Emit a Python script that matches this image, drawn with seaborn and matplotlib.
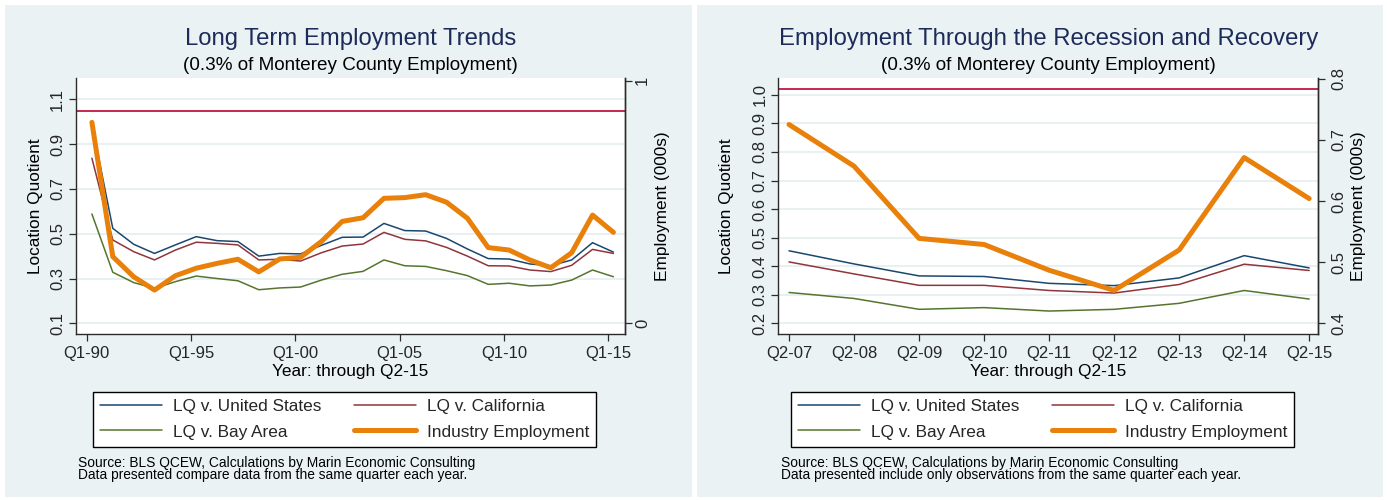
import matplotlib
matplotlib.use("Agg")
import matplotlib.pyplot as plt
import seaborn as sns
from matplotlib.patches import Rectangle

# ---------------- data ----------------
# Long-term panel: Q2 observations 1990-2015
years_long = list(range(1990, 2016))
lq_us_long = [0.99, 0.524, 0.453, 0.412, 0.450, 0.487, 0.469, 0.465, 0.400, 0.412,
              0.410, 0.448, 0.484, 0.485, 0.546, 0.514, 0.512, 0.479, 0.432, 0.389,
              0.387, 0.365, 0.357, 0.383, 0.460, 0.418]
lq_ca_long = [0.837, 0.472, 0.420, 0.383, 0.427, 0.462, 0.457, 0.450, 0.383, 0.386,
              0.378, 0.415, 0.445, 0.454, 0.506, 0.475, 0.468, 0.439, 0.400, 0.357,
              0.356, 0.338, 0.331, 0.359, 0.430, 0.412]
lq_bay_long = [0.588, 0.328, 0.282, 0.256, 0.286, 0.311, 0.300, 0.290, 0.250, 0.258,
               0.262, 0.293, 0.319, 0.332, 0.383, 0.357, 0.354, 0.335, 0.313, 0.274,
               0.279, 0.267, 0.271, 0.293, 0.338, 0.308]
emp_long = [0.828, 0.275, 0.192, 0.137, 0.196, 0.227, 0.247, 0.264, 0.212, 0.265,
            0.272, 0.337, 0.420, 0.435, 0.515, 0.518, 0.530, 0.499, 0.433, 0.312,
            0.302, 0.261, 0.229, 0.291, 0.446, 0.375]
long_tick_years = [1990, 1995, 2000, 2005, 2010, 2015]
long_tick_labels = ["Q1-90", "Q1-95", "Q1-00", "Q1-05", "Q1-10", "Q1-15"]
long_lq_ticks = [0.1, 0.3, 0.5, 0.7, 0.9, 1.1]
long_emp_ticks = [0, 1]

# Recession panel: Q2 observations 2007-2015
rec_labels = ["Q2-07", "Q2-08", "Q2-09", "Q2-10", "Q2-11", "Q2-12", "Q2-13", "Q2-14", "Q2-15"]
lq_us_rec = [0.454, 0.408, 0.366, 0.364, 0.340, 0.332, 0.359, 0.437, 0.394]
lq_ca_rec = [0.415, 0.373, 0.333, 0.333, 0.315, 0.306, 0.336, 0.407, 0.385]
lq_bay_rec = [0.308, 0.287, 0.249, 0.255, 0.243, 0.249, 0.270, 0.315, 0.285]
emp_rec = [0.725, 0.657, 0.539, 0.529, 0.487, 0.454, 0.520, 0.671, 0.604]
rec_lq_ticks = [0.2, 0.3, 0.4, 0.5, 0.6, 0.7, 0.8, 0.9, 1.0]
rec_emp_ticks = [0.4, 0.5, 0.6, 0.7, 0.8]

ref_line_long = 1.048
ref_line_rec = 1.021

series_labels = ["LQ v. United States", "LQ v. California", "LQ v. Bay Area", "Industry Employment"]
titles = ["Long Term Employment Trends", "Employment Through the Recession and Recovery"]
subtitle = "(0.3% of Monterey County Employment)"
xlabel = "Year: through Q2-15"
source_1 = "Source: BLS QCEW, Calculations by Marin Economic Consulting"
notes = ["Data presented compare data from the same quarter each year.",
         "Data presented include only observations from the same quarter each year."]

# ---------------- style ----------------
sns.set_theme(style="white")
plt.rcParams["font.family"] = ["Liberation Sans", "DejaVu Sans"]

C_US = "#1a476f"
C_CA = "#90353b"
C_BAY = "#55752f"
C_EMP = "#e8800a"
C_REF = "#c2173f"
C_BG = "#eaf2f3"
C_GRID = "#e3ecee"
C_AX = "#2b2b2b"
C_TITLE = "#1d2b5b"
TICK_FS = 12.0

W, H = 1387, 500
fig = plt.figure(figsize=(W / 100, H / 100), dpi=100)
fig.patch.set_facecolor("white")


def fx(px):
    return px / W


def fy(py):
    return 1 - py / H


def panel(x0, x1, y0, y1):
    fig.add_artist(Rectangle((fx(x0), fy(y1)), fx(x1) - fx(x0), fy(y0) - fy(y1),
                             transform=fig.transFigure, facecolor=C_BG,
                             edgecolor="none", zorder=-10))


panel(5, 692, 5, 497)
panel(697, 1383, 5, 497)


def make_axes(x0, x1, y0, y1):
    ax = fig.add_axes([fx(x0), fy(y1), fx(x1) - fx(x0), fy(y0) - fy(y1)])
    ax.set_facecolor("white")
    return ax


def style_axes(ax, ax2, lq_pad, emp_pad):
    ax.spines["top"].set_visible(False)
    ax2.spines["top"].set_visible(False)
    for s in ["left", "bottom", "right"]:
        ax.spines[s].set_color(C_AX)
        ax.spines[s].set_linewidth(1.0)
    ax2.spines["right"].set_color(C_AX)
    ax2.spines["right"].set_linewidth(1.0)
    ax2.spines["left"].set_visible(False)
    ax2.spines["bottom"].set_visible(False)
    ax.tick_params(axis="x", direction="out", length=5, width=0.9, color=C_AX,
                   labelsize=TICK_FS, pad=3.3, bottom=True)
    ax.tick_params(axis="y", direction="out", length=5, width=0.9, color=C_AX,
                   labelsize=TICK_FS, pad=lq_pad, left=True, labelrotation=90)
    ax2.tick_params(axis="y", direction="out", length=5, width=0.9, color=C_AX,
                    labelsize=TICK_FS, pad=emp_pad, right=True, labelrotation=90)
    ax.grid(axis="y", color=C_GRID, lw=1.1)
    ax.grid(axis="x", visible=False)
    ax2.grid(False)
    ax.set_axisbelow(True)


def draw_panel(ax, x, us, ca, bay, emp, ref):
    sns.lineplot(x=x, y=us, ax=ax, color=C_US, lw=1.1, label=series_labels[0], legend=False)
    sns.lineplot(x=x, y=ca, ax=ax, color=C_CA, lw=1.1, label=series_labels[1], legend=False)
    sns.lineplot(x=x, y=bay, ax=ax, color=C_BAY, lw=1.1, label=series_labels[2], legend=False)
    ax.axhline(ref, color=C_REF, lw=1.3, zorder=1.5)
    ax2 = ax.twinx()
    sns.lineplot(x=x, y=emp, ax=ax2, color=C_EMP, lw=3.6, label=series_labels[3], legend=False)
    return ax2


# ---------------- left panel ----------------
axL = make_axes(76, 625, 78.3, 334)
x_long = [y + 0.25 for y in years_long]
axL2 = draw_panel(axL, x_long, lq_us_long, lq_ca_long, lq_bay_long, emp_long, ref_line_long)
axL.set_xlim(1989.487, 2015.806)
axL.set_ylim(0.0524, 1.1937)
axL2.set_ylim(-0.044, 1.0096)
axL.set_xticks(long_tick_years)
axL.set_xticklabels(long_tick_labels)
axL.set_yticks(long_lq_ticks)
axL.set_yticklabels([f"{v:.1f}" for v in long_lq_ticks])
axL2.set_yticks(long_emp_ticks)
axL2.set_yticklabels([str(v) for v in long_emp_ticks])
style_axes(axL, axL2, 3, 2.2)

# ---------------- right panel ----------------
axR = make_axes(778.3, 1318.3, 78.3, 334)
x_rec = list(range(len(rec_labels)))
axR2 = draw_panel(axR, x_rec, lq_us_rec, lq_ca_rec, lq_bay_rec, emp_rec, ref_line_rec)
axR.set_xlim(-0.165, 8.14)
axR.set_ylim(0.1626, 1.058)
axR2.set_ylim(0.3828, 0.8005)
axR.set_xticks(x_rec)
axR.set_xticklabels(rec_labels)
axR.set_yticks(rec_lq_ticks)
axR.set_yticklabels([f"{v:.1f}" for v in rec_lq_ticks])
axR2.set_yticks(rec_emp_ticks)
axR2.set_yticklabels([f"{v:.1f}" for v in rec_emp_ticks])
style_axes(axR, axR2, 2.6, 4.5)

for ax, ax2, ylx, y2x, x0, x1 in [(axL, axL2, 36, 663, 76, 625), (axR, axR2, 726, 1358, 778.3, 1318.3)]:
    w = x1 - x0
    for t in ax.get_yticklabels():
        t.set_va("center")
    for t in ax2.get_yticklabels():
        t.set_va("center")
    ax.set_xlabel(xlabel, fontsize=12.4, color="black")
    ax.xaxis.set_label_coords(0.5, (334 - 375.5) / (334 - 78.3))
    ax.xaxis.label.set_va("baseline")
    ax.set_ylabel("Location Quotient", fontsize=12.4, color="black")
    ax.yaxis.set_label_coords((ylx - x0) / w, 0.5)
    ax.yaxis.label.set_va("center")
    ax2.set_ylabel("Employment (000s)", fontsize=12.4, color="black")
    ax2.yaxis.set_label_coords((y2x - x0) / w, 0.5)
    ax2.yaxis.label.set_va("center")

# titles
for cx, title in [(350.5, titles[0]), (1048.3, titles[1])]:
    fig.text(fx(cx), fy(44.5), title, ha="center", va="baseline", fontsize=17.2, color=C_TITLE)
    fig.text(fx(cx), fy(70), subtitle, ha="center", va="baseline", fontsize=13.6, color="black")

# legends
for ax, ax2, lx in [(axL, axL2, 93), (axR, axR2, 791)]:
    l_us, l_ca, l_bay = ax.get_lines()[:3]
    l_emp = ax2.get_lines()[0]
    fig.legend([l_us, l_bay, l_ca, l_emp],
               [series_labels[0], series_labels[2], series_labels[1], series_labels[3]],
               ncol=2, loc="upper left", bbox_to_anchor=(fx(lx), fy(392)),
               bbox_transform=fig.transFigure, borderaxespad=0, frameon=True,
               fancybox=False, edgecolor="black", facecolor="white", framealpha=1,
               fontsize=12.4, handlelength=3.6, handletextpad=0.64, columnspacing=1.86,
               borderpad=0.42, labelspacing=0.59)

# source notes
for sx, note in [(78, notes[0]), (781, notes[1])]:
    fig.text(fx(sx), fy(466.5), source_1, ha="left", va="baseline", fontsize=9.9, color="black")
    fig.text(fx(sx), fy(478.5), note, ha="left", va="baseline", fontsize=9.9, color="black")

fig.savefig("out.png", dpi=100, facecolor="white")
